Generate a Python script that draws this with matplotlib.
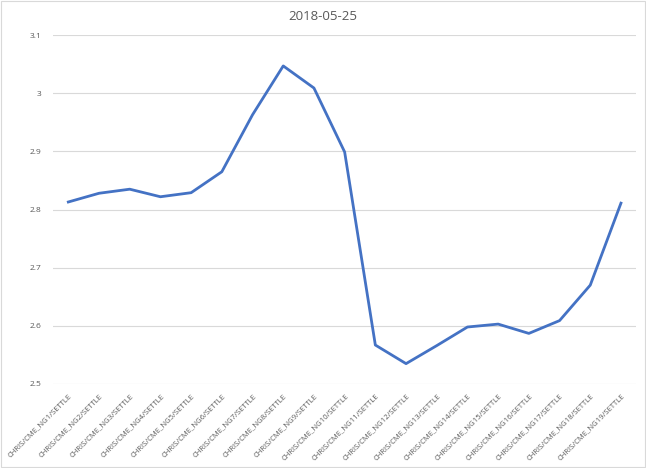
import matplotlib
import matplotlib.pyplot as plt
matplotlib.use('Agg')

plt.rcParams['font.family'] = ['Open Sans', 'DejaVu Sans']

# contract names and settle prices
labels = ['CHRIS/CME_NG%d/SETTLE' % i for i in range(1, 20)]
settle = [2.813, 2.828, 2.835, 2.822, 2.829, 2.865, 2.963, 3.047, 3.009, 2.899,
          2.567, 2.535, 2.566, 2.598, 2.603, 2.587, 2.609, 2.670, 2.811]
yticks = [2.5, 2.6, 2.7, 2.8, 2.9, 3, 3.1]
ytick_labels = ['2.5', '2.6', '2.7', '2.8', '2.9', '3', '3.1']

fig = plt.figure(figsize=(6.46, 4.68), dpi=100)
ax = fig.add_axes([0.082, 0.1795, 0.903, 0.7455])
x = list(range(len(settle)))
ax.plot(x, settle, color='#4472C4', linewidth=2.0)

ax.set_xlim(-0.5, len(settle) - 0.5)
ax.set_ylim(2.5, 3.1)
ax.set_yticks(yticks)
ax.set_yticklabels(ytick_labels)
ax.set_xticks(x)
ax.set_xticklabels(labels, rotation=45, ha='right', rotation_mode='anchor')
ax.tick_params(axis='y', length=0, labelsize=6, colors='#595959', pad=8)
ax.tick_params(axis='x', length=0, labelsize=5.5, colors='#595959', pad=6)
ax.grid(axis='y', color='#D9D9D9', linewidth=0.8)
ax.set_axisbelow(True)
for s in ax.spines.values():
    s.set_visible(False)

fig.text(0.5, 0.965, '2018-05-25', ha='center', va='center', fontsize=9.5, color='#595959')
fig.patches.append(plt.Rectangle((0.002, 0.002), 0.996, 0.996, transform=fig.transFigure,
                                 fill=False, edgecolor='#D9D9D9', linewidth=0.8))

fig.savefig('out.png', dpi=100)
